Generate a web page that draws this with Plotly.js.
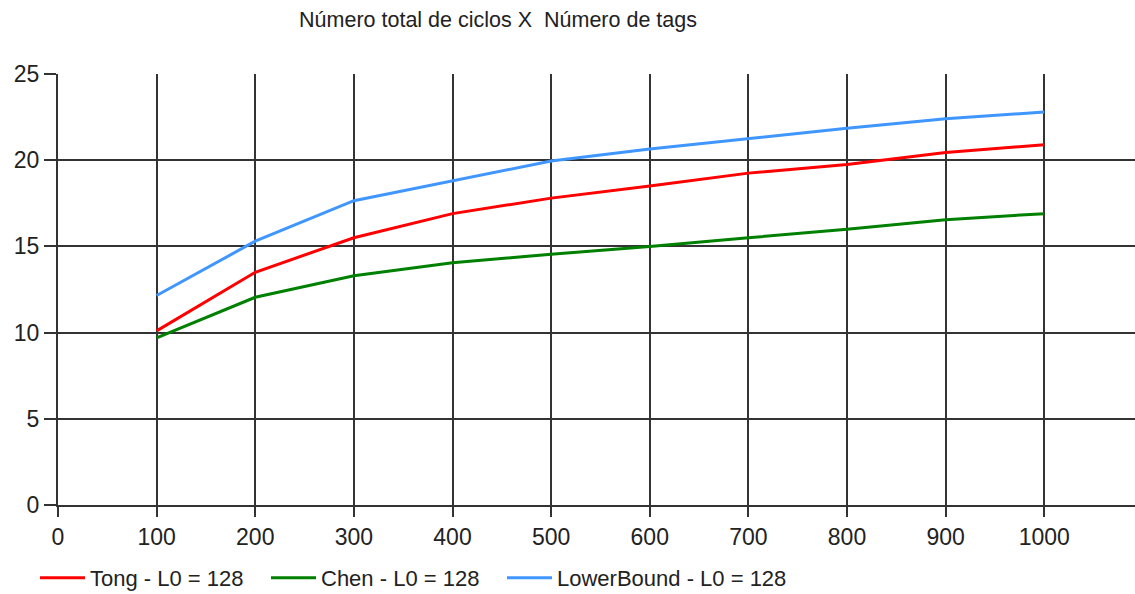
<!DOCTYPE html>
<html>
<head>
<meta charset="utf-8">
<script src="https://cdn.plot.ly/plotly-3.0.1.min.js"></script>
<style>html,body{margin:0;padding:0;background:#fff;}#chart{width:1135px;height:594px;}</style>
</head>
<body>
<div id="chart"></div>
<script>
const tags = [100, 200, 300, 400, 500, 600, 700, 800, 900, 1000];
const tong = [10.1, 13.5, 15.5, 16.9, 17.8, 18.5, 19.25, 19.75, 20.45, 20.9];
const chen = [9.7, 12.05, 13.3, 14.05, 14.55, 15.0, 15.5, 16.0, 16.55, 16.9];
const lowerBound = [12.15, 15.3, 17.65, 18.8, 19.95, 20.65, 21.25, 21.85, 22.4, 22.8];
const seriesNames = ["Tong - L0 = 128", "Chen - L0 = 128", "LowerBound - L0 = 128"];
const xTicks = [0, 100, 200, 300, 400, 500, 600, 700, 800, 900, 1000];
const yTicks = [0, 5, 10, 15, 20, 25];
const titleText = "Número total de ciclos X&nbsp; Número de tags";

const font = "Liberation Sans, Arial, sans-serif";
const traces = [
  {x: tags, y: tong, name: seriesNames[0], mode: "lines", line: {color: "#ff0000", width: 3}, legend: "legend"},
  {x: tags, y: chen, name: seriesNames[1], mode: "lines", line: {color: "#008000", width: 3}, legend: "legend2"},
  {x: tags, y: lowerBound, name: seriesNames[2], mode: "lines", line: {color: "#4096ff", width: 3}, legend: "legend3"}
];
const axisCommon = {
  showgrid: true, gridcolor: "#333333", gridwidth: 2,
  showline: true, linecolor: "#333333", linewidth: 2,
  ticks: "outside", tickcolor: "#333333", tickwidth: 2,
  zeroline: false, tickfont: {family: font, size: 23, color: "#222"}
};
function leg(px) {
  return {orientation: "h", xref: "container", yref: "container", x: px / 1135, xanchor: "left",
          y: 16 / 594, yanchor: "middle", font: {family: font, size: 22, color: "#222"},
          itemwidth: 45, bgcolor: "rgba(0,0,0,0)"};
}
const layout = {
  width: 1135, height: 594,
  margin: {l: 58, r: 0, t: 74, b: 89},
  paper_bgcolor: "#fff", plot_bgcolor: "#fff",
  title: {text: titleText, font: {family: font, size: 21.5, color: "#222"},
          xref: "container", yref: "container", x: 498 / 1135, xanchor: "center", y: 1 - 19 / 594, yanchor: "middle"},
  xaxis: Object.assign({}, axisCommon, {range: [0, 1092], tickvals: xTicks, ticklen: 10}),
  yaxis: Object.assign({}, axisCommon, {range: [0, 25], tickvals: yTicks, ticklen: 12}),
  showlegend: true,
  legend: leg(35),
  legend2: leg(266),
  legend3: leg(502)
};
Plotly.newPlot("chart", traces, layout, {displayModeBar: false, staticPlot: true});
</script>
</body>
</html>
